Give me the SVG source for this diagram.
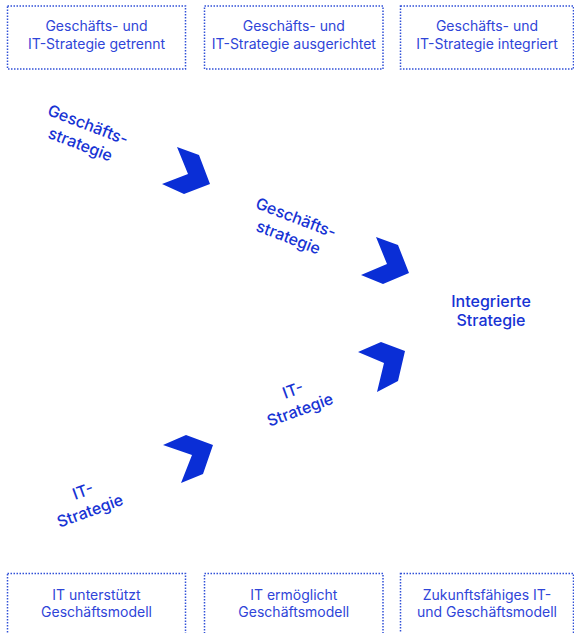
<svg xmlns="http://www.w3.org/2000/svg" width="574" height="633" viewBox="0 0 574 633">
<style>
.box{fill:none;stroke:#3050d8;stroke-width:1.5;stroke-dasharray:1.5 1.5}
.bt{font-family:Inter,"Liberation Sans",sans-serif;font-size:14px;fill:#2f45d8;text-anchor:middle}
.lb{font-family:Inter,"Liberation Sans",sans-serif;font-size:16px;font-weight:500;fill:#1733d4;text-anchor:middle}
.ch{fill:#0a2ed6}
</style>
<rect width="574" height="633" fill="#fff"/>
<g id="top1"><rect class="box" x="7.5" y="6" width="178" height="63"/><text class="bt" x="96.5" y="31">Geschäfts- und</text><text class="bt" x="96.5" y="49">IT-Strategie getrennt</text></g>
<g id="top2"><rect class="box" x="204.5" y="6" width="178.5" height="63"/><text class="bt" x="293.8" y="31">Geschäfts- und</text><text class="bt" x="293.8" y="49">IT-Strategie ausgerichtet</text></g>
<g id="top3"><rect class="box" x="400.5" y="6" width="173" height="63"/><text class="bt" x="487" y="31">Geschäfts- und</text><text class="bt" x="487" y="49">IT-Strategie integriert</text></g>
<g id="bot1"><rect class="box" x="7.5" y="573.5" width="178" height="63"/><text class="bt" x="96.5" y="600">IT unterstützt</text><text class="bt" x="96.5" y="617">Geschäftsmodell</text></g>
<g id="bot2"><rect class="box" x="204.5" y="573.5" width="178.5" height="63"/><text class="bt" x="293.8" y="600">IT ermöglicht</text><text class="bt" x="293.8" y="617">Geschäftsmodell</text></g>
<g id="bot3"><rect class="box" x="400.5" y="573.5" width="173" height="63"/><text class="bt" x="487" y="600">Zukunftsfähiges IT-</text><text class="bt" x="487" y="617">und Geschäftsmodell</text></g>
<g id="biz1" transform="translate(86,130) rotate(21)"><text class="lb" x="0" y="0">Geschäfts-</text><text class="lb" x="0" y="21">strategie</text></g>
<g id="biz2" transform="translate(294,223) rotate(21)"><text class="lb" x="0" y="0">Geschäfts-</text><text class="lb" x="0" y="21">strategie</text></g>
<g id="it2" transform="translate(302,415) rotate(-20)"><text class="lb" x="0" y="-21">IT-</text><text class="lb" x="0" y="0">Strategie</text></g>
<g id="it1" transform="translate(92,516) rotate(-20)"><text class="lb" x="0" y="-21">IT-</text><text class="lb" x="0" y="0">Strategie</text></g>
<g id="result"><text class="lb" x="491" y="307">Integrierte</text><text class="lb" x="491" y="326">Strategie</text></g>
<g id="connectors">
<polygon class="ch" points="177,147 199,155 210,184 184,194 162,184 188,174"/>
<polygon class="ch" points="376,237 398,245 409,273 383,284 361,275 387,264"/>
<polygon class="ch" points="358,352 381,342 405,351 398,381 377,392 384,363"/>
<polygon class="ch" points="163,445 186,435 213,445 203,474 181,483 192,455"/>
</g>
</svg>
